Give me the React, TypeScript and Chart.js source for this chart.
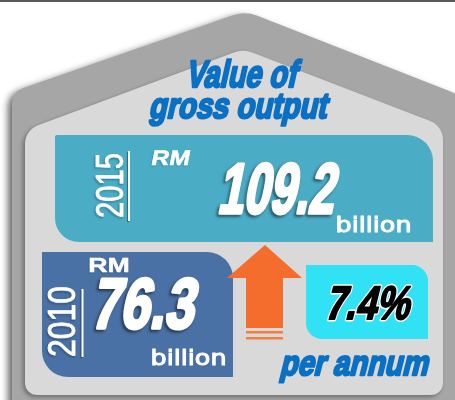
import { useEffect, useRef } from 'react';
import { Chart, registerables } from 'chart.js';

Chart.register(...registerables);

// ---- data ----
const titleLines = ['Value of', 'gross output'];
const years = ['2010', '2015'];
const values = [76.3, 109.2];
const currency = 'RM';
const unit = 'billion';
const growthRate = 7.4;
const growthCaption = 'per annum';

const W = 455;
const H = 400;

const BLUE_TEXT = '#0a70c4';
const OUTER = '#a6a6a6';
const INNER = '#d9d9d9';
const TEAL = '#4bacc6';
const STEEL = '#4a71a5';
const CYAN = '#31e1f4';
const ORANGE = '#f46d2d';

const NARROW = '"Liberation Sans", Arial, sans-serif';
const WIDE = '"DejaVu Sans", Verdana, sans-serif';

type Pt = [number, number];

function roundedPoly(ctx: CanvasRenderingContext2D, pts: Pt[], radii: number[]) {
  const n = pts.length;
  ctx.beginPath();
  const a = pts[n - 1];
  const b = pts[0];
  ctx.moveTo((a[0] + b[0]) / 2, (a[1] + b[1]) / 2);
  for (let i = 0; i < n; i++) {
    const p = pts[i];
    const q = pts[(i + 1) % n];
    ctx.arcTo(p[0], p[1], q[0], q[1], radii[i]);
  }
  ctx.closePath();
}

interface TextOpts {
  left: number;
  right: number;
  baseline: number;
  size: number;
  hTop?: number;
  skew?: number;
  weight?: string;
  family?: string;
  color: string;
  stroke?: string;
  strokeWidth?: number;
  shadow?: { color: string; x: number; y: number; blur: number };
  outline?: { color: string; width: number };
}

function fitText(ctx: CanvasRenderingContext2D, text: string, o: TextOpts) {
  const skew = o.skew ?? 0;
  const hTop = o.hTop ?? o.size * 0.72;
  const sw = o.stroke ? o.strokeWidth ?? 1 : 0;
  ctx.save();
  ctx.font = `${o.weight ?? 'bold'} ${o.size}px ${o.family ?? NARROW}`;
  ctx.textBaseline = 'alphabetic';
  ctx.textAlign = 'left';
  const w0 = ctx.measureText(text).width;
  const sx = (o.right - o.left - skew * hTop - sw) / w0;
  ctx.translate(o.left + sw / 2, o.baseline);
  ctx.transform(sx, 0, -skew, 1, 0, 0);
  if (o.shadow) {
    ctx.shadowColor = o.shadow.color;
    ctx.shadowOffsetX = o.shadow.x;
    ctx.shadowOffsetY = o.shadow.y;
    ctx.shadowBlur = o.shadow.blur;
  }
  if (o.outline) {
    ctx.lineJoin = 'round';
    ctx.strokeStyle = o.outline.color;
    ctx.lineWidth = o.outline.width;
    ctx.strokeText(text, 0, 0);
    ctx.shadowColor = 'transparent';
  }
  if (o.stroke) {
    ctx.lineJoin = 'round';
    ctx.strokeStyle = o.stroke;
    ctx.lineWidth = sw;
    ctx.strokeText(text, 0, 0);
    ctx.shadowColor = 'transparent';
  }
  ctx.fillStyle = o.color;
  ctx.fillText(text, 0, 0);
  ctx.restore();
}

function yearText(
  ctx: CanvasRenderingContext2D,
  text: string,
  baseX: number,
  startY: number,
  endY: number,
  lineX: number,
  lineTop: number,
  lineBottom: number,
) {
  ctx.save();
  ctx.translate(baseX, startY);
  ctx.rotate(-Math.PI / 2);
  ctx.font = `normal 39px ${NARROW}`;
  const w0 = ctx.measureText(text).width;
  ctx.scale((startY - endY) / w0, 1);
  ctx.shadowColor = 'rgba(0,0,0,0.55)';
  ctx.shadowOffsetX = -1.5;
  ctx.shadowOffsetY = 1.5;
  ctx.shadowBlur = 2;
  ctx.strokeStyle = '#ffffff';
  ctx.lineWidth = 0.8;
  ctx.strokeText(text, 0, 0);
  ctx.shadowColor = 'transparent';
  ctx.fillStyle = '#ffffff';
  ctx.fillText(text, 0, 0);
  ctx.restore();

  ctx.save();
  ctx.shadowColor = 'rgba(0,0,0,0.4)';
  ctx.shadowOffsetX = -1;
  ctx.shadowOffsetY = 1;
  ctx.shadowBlur = 1;
  ctx.fillStyle = '#ffffff';
  ctx.fillRect(lineX - 1, lineTop, 2, lineBottom - lineTop);
  ctx.restore();
}

const infographicPlugin = {
  id: 'infographic',
  beforeDraw(chart: Chart) {
    const ctx = chart.ctx;
    ctx.save();
    ctx.fillStyle = '#ffffff';
    ctx.fillRect(0, 0, W, H);
    ctx.fillStyle = '#595959';
    ctx.fillRect(0, 0, W, 2);

    // outer house
    ctx.save();
    ctx.shadowColor = 'rgba(0,0,0,0.6)';
    ctx.shadowOffsetX = -4;
    ctx.shadowOffsetY = 3;
    ctx.shadowBlur = 7;
    ctx.fillStyle = OUTER;
    roundedPoly(
      ctx,
      [
        [12, 430],
        [12, 92],
        [245, 11],
        [462, 96],
        [462, 430],
      ],
      [0, 16, 34, 16, 0],
    );
    ctx.fill();
    ctx.restore();

    // inner house
    ctx.save();
    ctx.shadowColor = 'rgba(0,0,0,0.35)';
    ctx.shadowOffsetX = -2;
    ctx.shadowOffsetY = 2;
    ctx.shadowBlur = 4;
    ctx.fillStyle = INNER;
    roundedPoly(
      ctx,
      [
        [25, 395],
        [25, 130],
        [243, 49],
        [443, 126],
        [443, 395],
      ],
      [12, 20, 28, 20, 12],
    );
    ctx.fill();
    ctx.restore();

    // title
    const blueOpts = { color: BLUE_TEXT, stroke: BLUE_TEXT, strokeWidth: 2.4, skew: 0.22 };
    fitText(ctx, titleLines[0], { ...blueOpts, left: 184, right: 303, baseline: 87, size: 38, hTop: 27 });
    fitText(ctx, titleLines[1], { ...blueOpts, left: 147, right: 333, baseline: 118, size: 36, hTop: 25 });

    // 2015 box
    ctx.fillStyle = TEAL;
    ctx.beginPath();
    (ctx as any).roundRect(55, 135, 378, 107, [2, 26, 0, 24]);
    ctx.fill();

    // 2010 box
    ctx.fillStyle = STEEL;
    ctx.beginPath();
    (ctx as any).roundRect(42, 252, 191, 125, [0, 26, 0, 26]);
    ctx.fill();

    // cyan growth box
    ctx.fillStyle = CYAN;
    ctx.beginPath();
    (ctx as any).roundRect(306, 265, 122, 74, [0, 16, 0, 16]);
    ctx.fill();

    // arrow
    ctx.fillStyle = ORANGE;
    ctx.beginPath();
    ctx.moveTo(265, 245);
    ctx.lineTo(302, 278);
    ctx.lineTo(283, 278);
    ctx.lineTo(283, 328);
    ctx.lineTo(246, 328);
    ctx.lineTo(246, 278);
    ctx.lineTo(227, 278);
    ctx.closePath();
    ctx.fill();
    ctx.fillStyle = '#f47f42';
    ctx.fillRect(246, 331, 37, 2.5);
    ctx.fillRect(246, 337, 37, 2.5);

    const bigShadow = { color: 'rgba(0,0,0,0.55)', x: -2, y: 2, blur: 3 };

    // 2015 texts
    const i15 = years.indexOf('2015');
    yearText(ctx, years[i15], 123, 218, 153, 129, 151, 221);
    fitText(ctx, currency, {
      left: 150, right: 192, baseline: 165, size: 21, hTop: 15, skew: 0.2, color: '#ffffff',
      stroke: '#ffffff', strokeWidth: 0.5,
      shadow: { color: 'rgba(0,0,0,0.25)', x: -1, y: 1, blur: 1 },
    });
    fitText(ctx, values[i15].toFixed(1), {
      left: 215, right: 345, baseline: 213, size: 71, hTop: 51, skew: 0.2, color: '#ffffff',
      stroke: '#ffffff', strokeWidth: 3.5, shadow: bigShadow,
    });
    fitText(ctx, unit, {
      left: 335, right: 412, baseline: 232, size: 21, hTop: 16, skew: 0, weight: 'normal', family: WIDE,
      color: '#ffffff', stroke: '#ffffff', strokeWidth: 1,
    });

    // 2010 texts
    const i10 = years.indexOf('2010');
    yearText(ctx, years[i10], 75, 357, 286, 82.5, 289, 357);
    fitText(ctx, currency, {
      left: 88, right: 130, baseline: 272, size: 21, hTop: 15, skew: 0, color: '#ffffff',
      stroke: '#ffffff', strokeWidth: 0.5,
      shadow: { color: 'rgba(0,0,0,0.25)', x: -1, y: 1, blur: 1 },
    });
    fitText(ctx, values[i10].toFixed(1), {
      left: 88, right: 205, baseline: 328, size: 71, hTop: 51, skew: 0.2, color: '#ffffff',
      stroke: '#ffffff', strokeWidth: 3.5, shadow: bigShadow,
    });
    fitText(ctx, unit, {
      left: 150, right: 227, baseline: 365, size: 21, hTop: 16, skew: 0, weight: 'normal', family: WIDE,
      color: '#ffffff', stroke: '#ffffff', strokeWidth: 1,
    });

    // growth rate
    fitText(ctx, `${growthRate.toFixed(1)}%`, {
      left: 323, right: 418, baseline: 319, size: 47, hTop: 34, skew: 0.25, color: '#000000',
      outline: { color: '#ffffff', width: 5 }, stroke: '#000000', strokeWidth: 2,
    });
    fitText(ctx, growthCaption, {
      left: 278, right: 433, baseline: 375, size: 35, hTop: 18, skew: 0.25, color: BLUE_TEXT,
      stroke: BLUE_TEXT, strokeWidth: 2.4,
    });

    ctx.restore();
  },
};

export default function App() {
  const ref = useRef<HTMLCanvasElement | null>(null);
  useEffect(() => {
    const canvas = ref.current;
    if (!canvas) return;
    const chart = new Chart(canvas, {
      type: 'bar',
      data: {
        labels: years,
        datasets: [{ data: values, backgroundColor: 'rgba(0,0,0,0)', borderWidth: 0 }],
      },
      options: {
        animation: false,
        responsive: false,
        events: [],
        plugins: { legend: { display: false }, tooltip: { enabled: false } },
        scales: { x: { display: false }, y: { display: false, beginAtZero: true } },
      },
      plugins: [infographicPlugin],
    });
    return () => chart.destroy();
  }, []);
  return (
    <div style={{ position: 'fixed', left: 0, top: 0, width: W, height: H, background: '#fff' }}>
      <canvas ref={ref} width={W} height={H} style={{ display: 'block', width: W, height: H }} />
    </div>
  );
}
